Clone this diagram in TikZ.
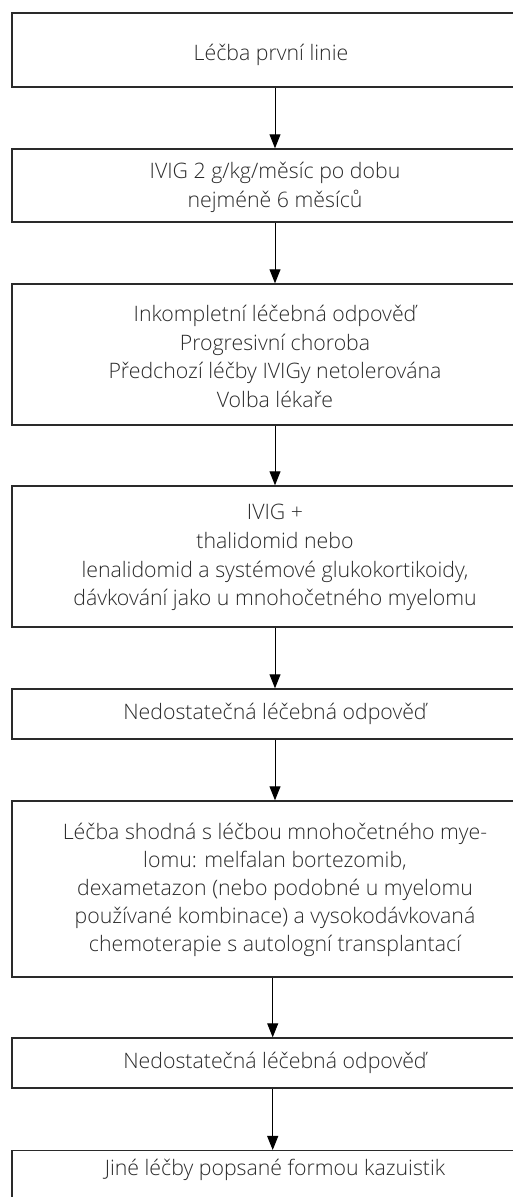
\documentclass[tikz,border=0pt]{standalone}
\usepackage{fontspec}
\setmainfont{Open Sans}[UprightFont=* Light]
\usetikzlibrary{arrows.meta}
\definecolor{boxline}{HTML}{2A2A2A}
\definecolor{txt}{HTML}{2A2A2A}
\begin{document}
\begin{tikzpicture}[x=1pt,y=1pt,
  flowbox/.style={draw=boxline,line width=1.4pt,rectangle,minimum width=526pt,inner sep=0pt},
  flowtext/.style={text=txt,align=center,inner sep=0pt,font=\fontsize{21.3}{28.8}\selectfont},
  flowarrow/.style={draw=black,line width=1pt,-{Triangle[length=14pt,width=11pt]}}]
\useasboundingbox (0,0) rectangle (513,1197);
\clip (0,0) rectangle (513,1197);
\fill[white] (0,0) rectangle (513,1197);
% boxes: x 12..538, y measured from top
\node[flowbox,minimum height=74pt] (b1) at (275,{1197-50}) {};
\node[flowbox,minimum height=73pt] (b2) at (275,{1197-185.5}) {};
\node[flowbox,minimum height=141pt] (b3) at (275,{1197-354.5}) {};
\node[flowbox,minimum height=141pt] (b4) at (275,{1197-556.5}) {};
\node[flowbox,minimum height=50pt] (b5) at (275,{1197-714}) {};
\node[flowbox,minimum height=176pt] (b6) at (275,{1197-889}) {};
\node[flowbox,minimum height=50pt] (b7) at (275,{1197-1063}) {};
\node[flowbox,minimum height=70pt,anchor=north] (b8) at (275,{1197-1150}) {};
% texts
\node[flowtext] (t1) at ([xshift=-4pt,yshift=-5pt]b1.center) {Léčba první linie};
\node[flowtext] (t2) at ([yshift=-2pt]b2.center) {IVIG 2 g/kg/měsíc po dobu\\nejméně 6 měsíců};
\node[flowtext] (t3) at ([yshift=-2pt]b3.center) {Inkompletní léčebná odpověď\\Progresivní choroba\\Předchozí léčby IVIGy netolerována\\Volba lékaře};
\node[flowtext] (t4) at ([yshift=-1pt]b4.center) {IVIG +\\thalidomid nebo\\lenalidomid a systémové glukokortikoidy,\\dávkování jako u mnohočetného myelomu};
\node[flowtext] (t5) at (b5.center) {Nedostatečná léčebná odpověď};
\node[flowtext,font=\fontsize{21.3}{27.8}\selectfont] (t6) at ([yshift=-1pt]b6.center) {Léčba shodná s léčbou mnohočetného mye-\\lomu: melfalan bortezomib,\\dexametazon (nebo podobné u myelomu\\používané kombinace) a vysokodávkovaná\\chemoterapie s autologní transplantací};
\node[flowtext] (t7) at (b7.center) {Nedostatečná léčebná odpověď};
\node[flowtext] (t8) at ([yshift=-20pt]b8.north) {Jiné léčby popsané formou kazuistik};
% arrows
\draw[flowarrow] (b1.south) -- (b2.north);
\draw[flowarrow] (b2.south) -- (b3.north);
\draw[flowarrow] (b3.south) -- (b4.north);
\draw[flowarrow] (b4.south) -- (b5.north);
\draw[flowarrow] (b5.south) -- (b6.north);
\draw[flowarrow] ([xshift=-2.3pt]b6.south) -- ([xshift=-2.3pt]b7.north);
\draw[flowarrow] ([xshift=-2.3pt]b7.south) -- ([xshift=-2.3pt]b8.north);
\end{tikzpicture}
\end{document}
